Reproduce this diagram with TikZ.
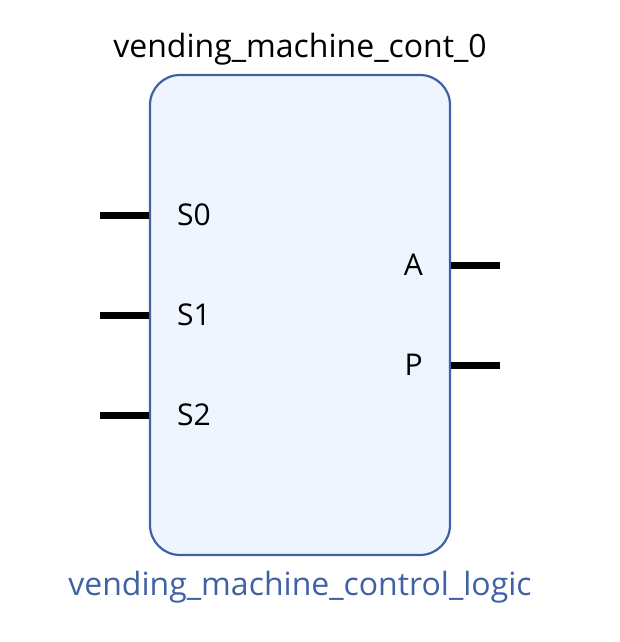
\documentclass[tikz,border=0pt]{standalone}
\usepackage{fontspec}
\setmainfont{Open Sans}
\usepackage{tikz}
\usetikzlibrary{positioning}
\definecolor{blockline}{RGB}{64, 98, 164}
\definecolor{blockfill}{RGB}{238, 245, 255}
\tikzset{
	block/.style={draw=blockline, fill=blockfill, line width=2.2pt, rounded corners=30pt, minimum width=300pt, minimum height=480pt, inner sep=0pt},
	pin/.style={line width=7pt, black},
	pinlabel/.style={font=\fontsize{30}{34}\selectfont, inner sep=0pt},
}
\begin{document}
\begin{tikzpicture}[x=1pt, y=-1pt]
	\useasboundingbox (0,0) rectangle (619,642);
	\node[block] (core) at (300,315) {};
	\node[font=\fontsize{32}{36}\selectfont, anchor=base] (inst) at (300,57) {vending\_machine\_cont\_0};
	\node[font=\fontsize{32}{36}\selectfont, anchor=base, text=blockline] (type) at (300,595) {vending\_machine\_control\_logic};
	% inputs
	\foreach \name/\y in {S0/215, S1/315, S2/415}{
		\coordinate (\name-end) at (100,\y);
		\draw[pin] (\name-end) -- (core.west |- \name-end);
		\node[pinlabel, anchor=west] (\name) at (177,\y) {\name};
	}
	% outputs
	\foreach \name/\y in {A/265, P/365}{
		\coordinate (\name-end) at (500,\y);
		\draw[pin] (core.east |- \name-end) -- (\name-end);
		\node[pinlabel, anchor=east] (\name) at (423,\y) {\name};
	}
\end{tikzpicture}
\end{document}
